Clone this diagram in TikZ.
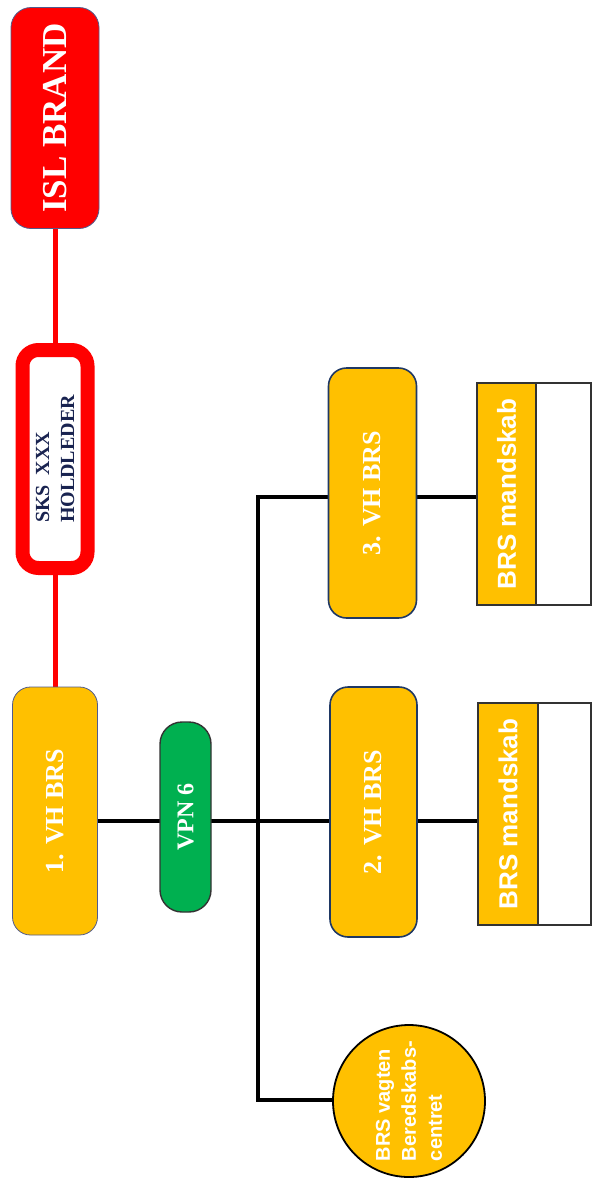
\documentclass[tikz,border=0pt]{standalone}
\usepackage{fontspec}
\setmainfont{Liberation Serif}
\setsansfont{Liberation Sans}
\usepackage{xcolor}
\usepackage{tikz}
\usetikzlibrary{calc,shapes}
\usetikzlibrary{positioning}

\definecolor{brandred}{RGB}{255,0,0}
\definecolor{vhorange}{RGB}{255,192,0}
\definecolor{vpngreen}{RGB}{0,176,80}
\definecolor{navyline}{RGB}{31,56,100}
\definecolor{greyblue}{RGB}{80,90,140}
\definecolor{sksblue}{RGB}{25,35,80}

\pgfdeclarelayer{background}
\pgfsetlayers{background,main}

\tikzset{
  redline/.style={draw=brandred, line width=5},
  busline/.style={draw=black, line width=4},
  vhbox/.style={rotate=90, rounded corners=18, fill=vhorange, draw=navyline, line width=1.6,
    minimum width=250, minimum height=88, inner sep=0, text=white,
    font=\bfseries\fontsize{26}{30}\selectfont},
  mandbox/.style={rotate=90, fill=vhorange, draw=black!80, line width=1.2,
    minimum width=222, minimum height=59, inner sep=0, text=white,
    font=\sffamily\bfseries\fontsize{26}{30}\selectfont},
  blankbox/.style={rotate=90, fill=white, draw=black!80, line width=1.2,
    minimum width=222, minimum height=55, inner sep=0},
}

\begin{document}
\begin{tikzpicture}[x=1pt,y=1pt,yscale=-1,xscale=1]
\useasboundingbox (0,0) rectangle (592,1179);

% Top nodes
\node (isl) at (55,118) [rotate=90, rounded corners=20, fill=brandred, draw=greyblue, line width=0.8,
  minimum width=221, minimum height=88, inner sep=0, text=white,
  font=\bfseries\fontsize{35}{40}\selectfont] {ISL BRAND};
\node (sks) at (55,459) [rotate=90, rounded corners=16, fill=white, draw=brandred, line width=14,
  minimum width=218, minimum height=65, inner sep=0, text=sksblue, align=left,
  font=\bfseries\fontsize{20}{25}\selectfont] {SKS\ \ XXX\\HOLDLEDER};
\node (vh1) at (55,811) [vhbox, draw=greyblue, line width=0.8, minimum width=248, minimum height=85] {1. VH BRS};
\node (vpn) at (185.5,817) [rotate=90, rounded corners=22, fill=vpngreen, draw=black!80, line width=1.4,
  minimum width=190, minimum height=51, inner sep=0, text=white,
  font=\bfseries\fontsize{24}{28}\selectfont] {VPN 6};

% VH units
\node (vh3) at (372.5,493) [vhbox] {3. VH BRS};
\node (vh2) at (373.5,812) [vhbox, minimum height=87] {2. VH BRS};

% Mandskab boxes
\node (mand3) at (506.5,494) [mandbox] {BRS mandskab};
\node (mand3b) at (563.5,494) [blankbox] {};
\node (mand2) at (508,814) [mandbox, minimum height=60] {BRS mandskab};
\node (mand2b) at (564.5,814) [blankbox, minimum height=53] {};

% Circle
\node (brsv) at (409,1101) [circle, rotate=90, fill=vhorange, draw=black, line width=1.8,
  minimum size=152, inner sep=0, text=white, align=left,
  font=\sffamily\bfseries\fontsize{20}{26}\selectfont] {BRS vagten\\Beredskabs-\\centret};

% Bus coordinates
\coordinate (bus) at (258,821);
\coordinate (top) at (258,497);
\coordinate (bot) at (258,1100);

\begin{pgfonlayer}{background}
%Straight Lines
\draw [redline] (isl) -- (sks);
\draw [redline] (sks) -- (vh1);
%Straight Lines
\draw [busline] (vh1 |- bus) -- (vh2 |- bus);
\draw [busline, line cap=rect] (top) -- (bot);
\draw [busline] (top) -- (mand3 |- top);
\draw [busline] (vh2 |- bus) -- (mand2 |- bus);
\draw [busline] (bot) -- (bot -| brsv);
\end{pgfonlayer}

\end{tikzpicture}
\end{document}
